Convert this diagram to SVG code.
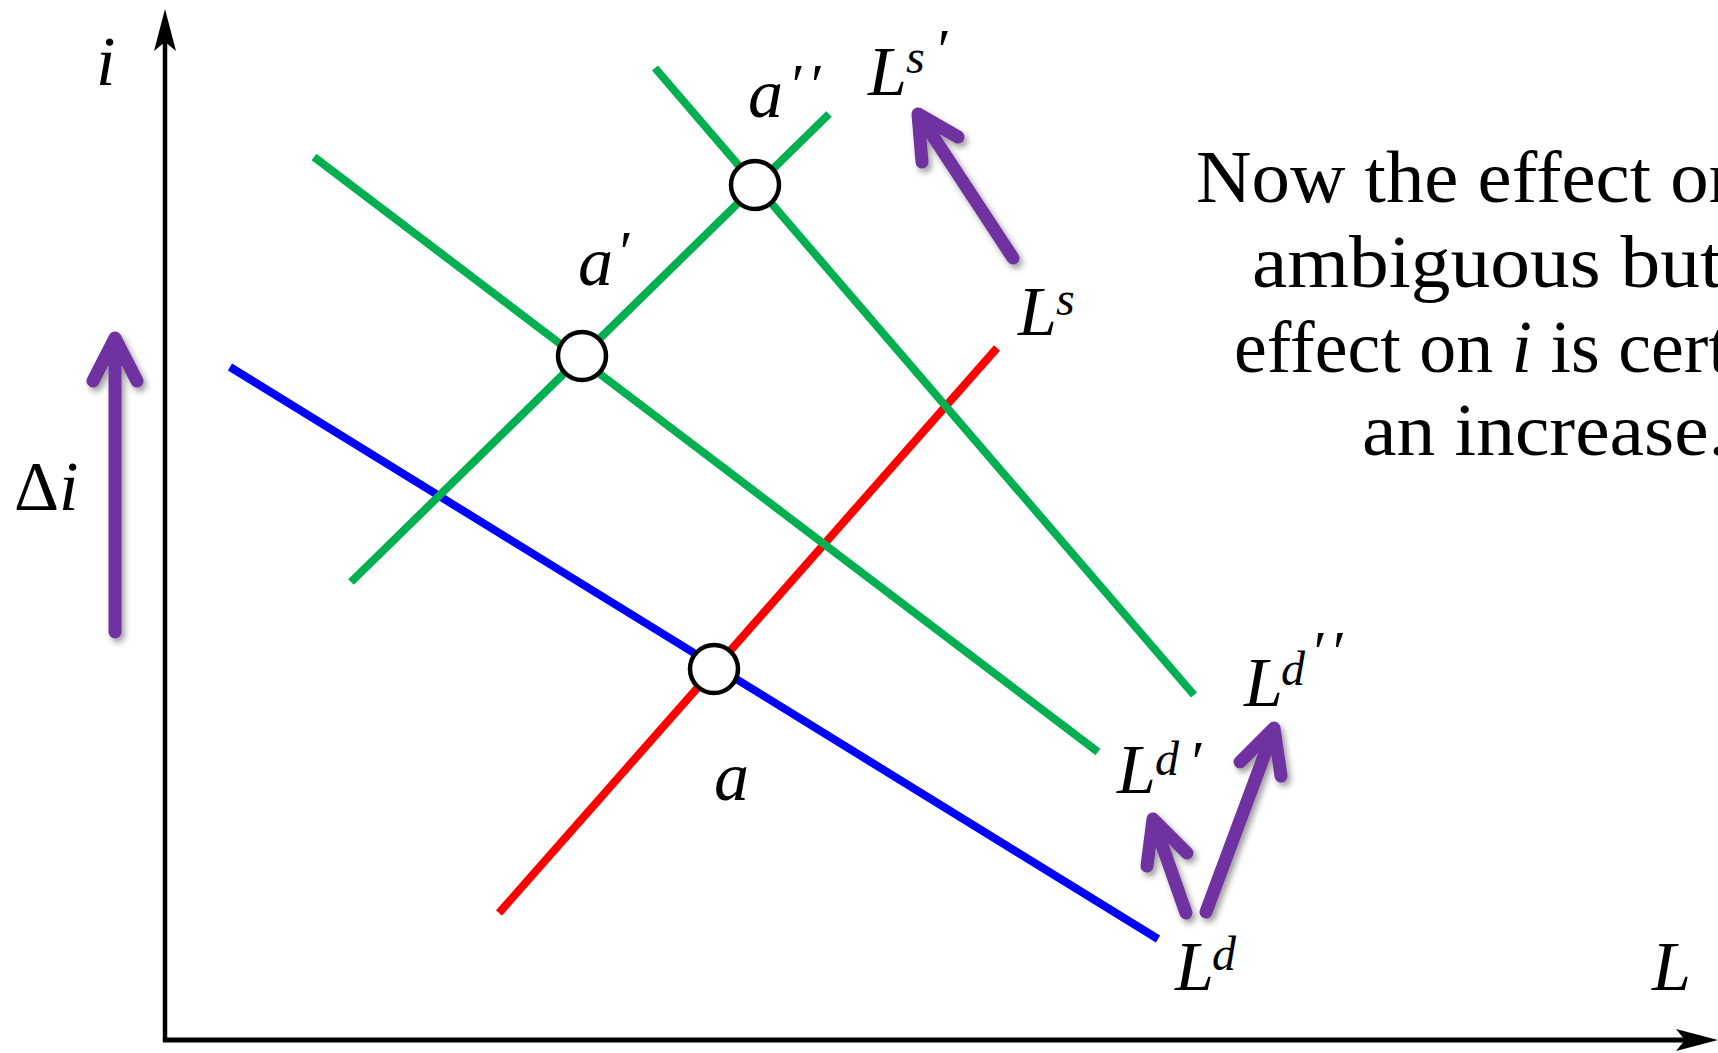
<svg xmlns="http://www.w3.org/2000/svg" width="1718" height="1053" viewBox="0 0 1718 1053">
<style>
.lbl{font-family:"Liberation Serif","DejaVu Serif",serif;font-style:italic;font-size:70px;fill:#000}
.sup{font-size:48px}
.pr{font-size:60px}
.body{font-family:"Liberation Serif","DejaVu Serif",serif;font-size:73px;fill:#000}
.curve{fill:none;stroke-width:8;stroke-linecap:butt}
.shift{fill:none;stroke:#7030A0;stroke-width:13;stroke-linecap:round;stroke-linejoin:round}
.pt{fill:#fff;stroke:#000;stroke-width:4.5}
</style>
<defs>
<filter id="sh" filterUnits="userSpaceOnUse" x="0" y="0" width="1718" height="1053">
<feDropShadow dx="3" dy="4" stdDeviation="3" flood-color="#000" flood-opacity="0.4"/>
</filter>
</defs>
<rect width="1718" height="1053" fill="#fff"/>
<g id="axes">
<line x1="165" y1="1042" x2="165" y2="30" stroke="#000" stroke-width="4.5"/>
<path d="M165,9 L176,51 L165,42 L154,51 Z" fill="#000"/>
<line x1="163" y1="1040" x2="1700" y2="1040" stroke="#000" stroke-width="5"/>
<path d="M1718,1040 L1676,1029 L1685,1040 L1676,1051 Z" fill="#000"/>
<text class="lbl" x="96" y="85">i</text>
<text class="lbl" x="1652" y="990">L</text>
</g>
<g id="connectors">
<line id="Ld" class="curve" stroke="#0000FF" x1="230" y1="367" x2="1158" y2="939"/>
<line id="Ls" class="curve" stroke="#FF0000" x1="499" y1="913" x2="997" y2="348"/>
<line id="Ls1" class="curve" stroke="#00B050" x1="351" y1="582" x2="829" y2="114"/>
<line id="Ld1" class="curve" stroke="#00B050" x1="314" y1="157" x2="1098" y2="752"/>
<line id="Ld2" class="curve" stroke="#00B050" x1="655" y1="68" x2="1194" y2="695"/>
</g>
<g id="shifts" filter="url(#sh)">
<path id="shift-i" class="shift" d="M115,632 L115,340 M93,381 L115,338 L137,381"/>
<path id="shift-Ls" class="shift" d="M1013,258 L921,118 M922,162 L918,114 L958,137"/>
<path id="shift-Ld1" class="shift" d="M1186,913 L1154,822 M1147,866 L1153,819 L1187,853"/>
<path id="shift-Ld2" class="shift" d="M1206,912 L1273,732 M1240,762 L1274,728 L1281,776"/>
</g>
<g id="node-a"><circle class="pt" cx="714" cy="669" r="24"/><text class="lbl" x="714" y="800">a</text></g>
<g id="node-a1"><circle class="pt" cx="582" cy="356" r="24"/><text class="lbl" x="578" y="285">a<tspan class="pr" x="616" y="272">′</tspan></text></g>
<g id="node-a2"><circle class="pt" cx="755" cy="185" r="24"/><text class="lbl" x="748" y="117">a<tspan class="pr" x="788" y="105" letter-spacing="6">′′</tspan></text></g>
<g id="labels">
<text class="lbl" x="14" y="510"><tspan font-style="normal">Δ</tspan>i</text>
<text class="lbl" x="868" y="95">L<tspan class="sup" x="906" y="73">s</tspan><tspan class="pr" x="934" y="70">′</tspan></text>
<text class="lbl" x="1018" y="335">L<tspan class="sup" x="1056" y="315">s</tspan></text>
<text class="lbl" x="1175" y="990">L<tspan class="sup" x="1212" y="970">d</tspan></text>
<text class="lbl" x="1117" y="793">L<tspan class="sup" x="1155" y="775">d</tspan><tspan class="pr" x="1188" y="782">′</tspan></text>
<text class="lbl" x="1244" y="706">L<tspan class="sup" x="1281" y="685">d</tspan><tspan class="pr" x="1310" y="672" letter-spacing="6">′′</tspan></text>
</g>
<g id="note">
<text class="body" x="1196" y="202" textLength="551" lengthAdjust="spacingAndGlyphs">Now the effect on</text>
<text class="body" x="1252" y="287" textLength="470" lengthAdjust="spacingAndGlyphs">ambiguous but</text>
<text class="body" x="1234" y="372" textLength="495" lengthAdjust="spacingAndGlyphs">effect on <tspan font-style="italic">i</tspan> is cert</text>
<text class="body" x="1362" y="455" textLength="366" lengthAdjust="spacingAndGlyphs">an increase.</text>
</g>
</svg>
